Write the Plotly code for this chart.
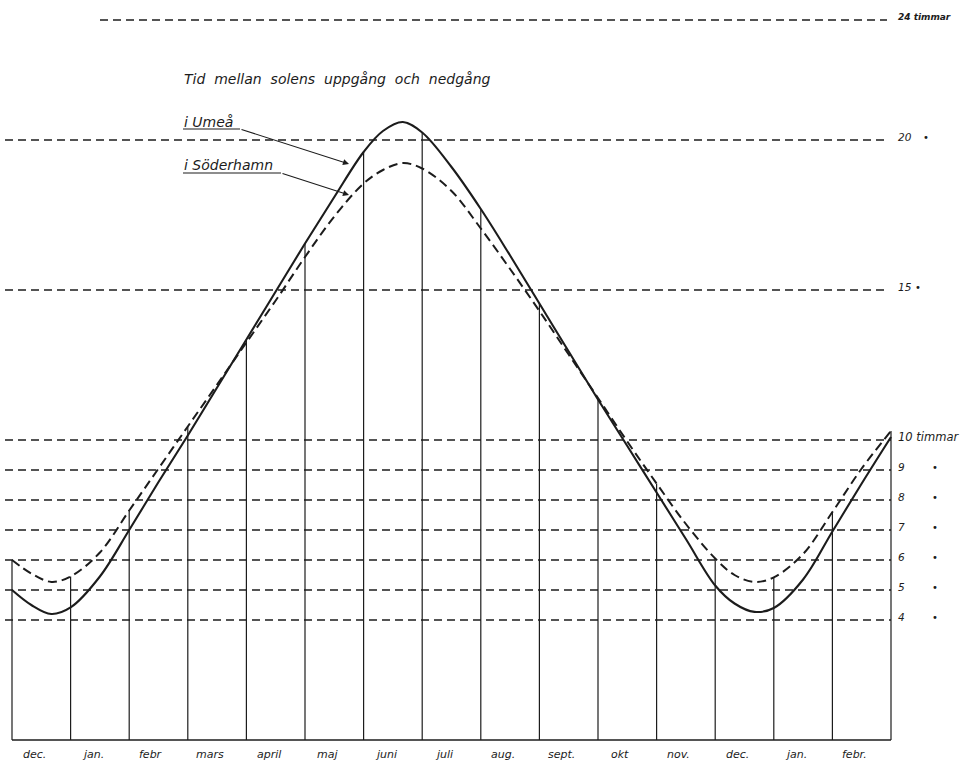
import plotly.graph_objects as go

# ---------------- data ----------------
# x = months since 1 December (0 = 1 dec, 1 = 1 jan, ... 15 = 1 mars second year)
month_labels = ["dec.", "jan.", "febr", "mars", "april", "maj", "juni", "juli",
                "aug.", "sept.", "okt", "nov.", "dec.", "jan.", "febr."]

x_months = [0, 0.33, 0.67, 1, 1.5, 2, 2.5, 3, 3.5, 4, 4.5, 5, 5.5, 6, 6.33, 6.67,
            7, 7.5, 8, 8.5, 9, 9.5, 10, 10.5, 11, 11.5, 12, 12.33, 12.67, 13,
            13.5, 14, 14.5, 15]

umea_hours = [5.0, 4.5, 4.2, 4.42, 5.45, 7.0, 8.6, 10.15, 11.75, 13.35, 14.95, 16.55,
              18.1, 19.6, 20.3, 20.6, 20.25, 19.1, 17.7, 16.15, 14.55, 12.95,
              11.35, 9.8, 8.25, 6.7, 5.15, 4.55, 4.27, 4.4, 5.35, 6.95, 8.55, 10.1]

soderhamn_hours = [6.0, 5.55, 5.27, 5.45, 6.25, 7.65, 9.05, 10.45, 11.85, 13.25,
                   14.65, 16.1, 17.45, 18.55, 19.0, 19.23, 19.05, 18.3, 17.05, 15.7,
                   14.3, 12.85, 11.4, 9.95, 8.55, 7.2, 6.05, 5.5, 5.27, 5.42, 6.2,
                   7.6, 9.05, 10.3]

grid_hours = [4, 5, 6, 7, 8, 9, 10, 15, 20, 24]
grid_labels = ["4", "5", "6", "7", "8", "9", "10 timmar", "15", "20", "24 timmar"]
ditto_marks = ["•", "•", "•", "•", "•", "•", "", "•", "•", ""]

title_text = "Tid mellan solens uppgång och nedgång"
name_umea = "i Umeå"
name_soder = "i Söderhamn"

# ---------------- layout helpers (pixel -> axis units) ----------------
W, H = 965, 763
X0_PX, PX_PER_MONTH = 12.0, 58.6
Y0_PX, PX_PER_HOUR = 740.0, 30.0


def px_x(p):
    return (p - X0_PX) / PX_PER_MONTH


def px_y(p):
    return (Y0_PX - p) / PX_PER_HOUR


def spaced(t):
    # wider word gaps, like the hand lettering
    return t.replace(" ", " \u00a0")


INK = "#1c1c1c"
FONT = "DejaVu Sans"

fig = go.Figure()

# curves
fig.add_trace(go.Scatter(
    x=x_months, y=umea_hours, mode="lines", name=name_umea,
    line=dict(color=INK, width=2.1, shape="spline", smoothing=1.0),
    hoverinfo="skip"))
fig.add_trace(go.Scatter(
    x=x_months, y=soderhamn_hours, mode="lines", name=name_soder,
    line=dict(color=INK, width=2.0, shape="spline", smoothing=1.0, dash="9px,5px"),
    hoverinfo="skip"))

shapes = []
# horizontal dashed hour lines
for h in grid_hours:
    if h == 24:
        x_start, x_end = px_x(100), px_x(887)
    elif h in (15, 20):
        x_start, x_end = px_x(5), px_x(887)
    else:
        x_start, x_end = px_x(5), x_months[-1]
    shapes.append(dict(type="line", xref="x", yref="y", x0=x_start, x1=x_end,
                       y0=h, y1=h, layer="below",
                       line=dict(color=INK, width=1.4, dash="8px,5px")))

# vertical month lines from base up to the upper curve
for xm, u, s in zip(x_months, umea_hours, soderhamn_hours):
    if float(xm).is_integer():
        shapes.append(dict(type="line", xref="x", yref="y", x0=xm, x1=xm,
                           y0=0, y1=max(u, s), layer="below",
                           line=dict(color=INK, width=1.2)))
# base line
shapes.append(dict(type="line", xref="x", yref="y", x0=x_months[0], x1=x_months[-1],
                   y0=0, y1=0, line=dict(color=INK, width=1.4)))

# underlines of the curve names
shapes.append(dict(type="line", xref="x", yref="y", x0=px_x(183), x1=px_x(240),
                   y0=px_y(129), y1=px_y(129), line=dict(color=INK, width=1.1)))
shapes.append(dict(type="line", xref="x", yref="y", x0=px_x(183), x1=px_x(281),
                   y0=px_y(173), y1=px_y(173), line=dict(color=INK, width=1.1)))

annotations = []
# month labels
for i, lab in enumerate(month_labels):
    annotations.append(dict(x=i + 0.5 - 0.12, y=px_y(754), xref="x", yref="y",
                            text="<i>%s</i>" % lab, showarrow=False,
                            font=dict(family=FONT, size=11, color=INK),
                            xanchor="center", yanchor="middle"))

# hour labels on the right
for h, lab, dm in zip(grid_hours, grid_labels, ditto_marks):
    if h == 24:
        annotations.append(dict(x=px_x(896), y=h + 0.1, xref="x", yref="y",
                                text="<b><i>%s</i></b>" % lab, showarrow=False,
                                font=dict(family=FONT, size=9, color=INK),
                                xanchor="left", yanchor="middle"))
        continue
    size = 11.5 if h == 10 else 10.5
    annotations.append(dict(x=px_x(896), y=h + 0.1, xref="x", yref="y",
                            text="<i>%s</i>" % lab, showarrow=False,
                            font=dict(family=FONT, size=size, color=INK),
                            xanchor="left", yanchor="middle"))
    if dm:
        dx = 935 if h < 15 else (918 if h == 15 else 926)
        annotations.append(dict(x=px_x(dx), y=h + 0.1, xref="x", yref="y",
                                text=dm, showarrow=False,
                                font=dict(family=FONT, size=10, color=INK),
                                xanchor="center", yanchor="middle"))

# title
annotations.append(dict(x=px_x(182), y=px_y(79), xref="x", yref="y",
                        text="<i>%s</i>" % spaced(title_text), showarrow=False,
                        font=dict(family=FONT, size=14, color=INK),
                        xanchor="left", yanchor="middle"))
# curve names
annotations.append(dict(x=px_x(182), y=px_y(122), xref="x", yref="y",
                        text="<i>%s</i>" % name_umea, showarrow=False,
                        font=dict(family=FONT, size=14, color=INK),
                        xanchor="left", yanchor="middle"))
annotations.append(dict(x=px_x(182), y=px_y(165), xref="x", yref="y",
                        text="<i>%s</i>" % name_soder, showarrow=False,
                        font=dict(family=FONT, size=14, color=INK),
                        xanchor="left", yanchor="middle"))
# arrows
annotations.append(dict(x=px_x(349), y=px_y(164), ax=px_x(240), ay=px_y(129),
                        xref="x", yref="y", axref="x", ayref="y", text="",
                        showarrow=True, arrowhead=2, arrowsize=1.1,
                        arrowwidth=1.1, arrowcolor=INK, standoff=0))
annotations.append(dict(x=px_x(349), y=px_y(195), ax=px_x(281), ay=px_y(173),
                        xref="x", yref="y", axref="x", ayref="y", text="",
                        showarrow=True, arrowhead=2, arrowsize=1.1,
                        arrowwidth=1.1, arrowcolor=INK, standoff=0))

fig.update_layout(
    width=W, height=H, autosize=False,
    margin=dict(l=0, r=0, t=0, b=0, pad=0),
    paper_bgcolor="white", plot_bgcolor="white",
    showlegend=False,
    shapes=shapes, annotations=annotations,
    xaxis=dict(range=[px_x(0), px_x(W)], visible=False, fixedrange=True),
    yaxis=dict(range=[px_y(H), px_y(0)], visible=False, fixedrange=True),
)

fig.write_html("out.html", config={"displayModeBar": False},
               post_script="document.body.style.margin='0';document.body.style.overflow='hidden';")
